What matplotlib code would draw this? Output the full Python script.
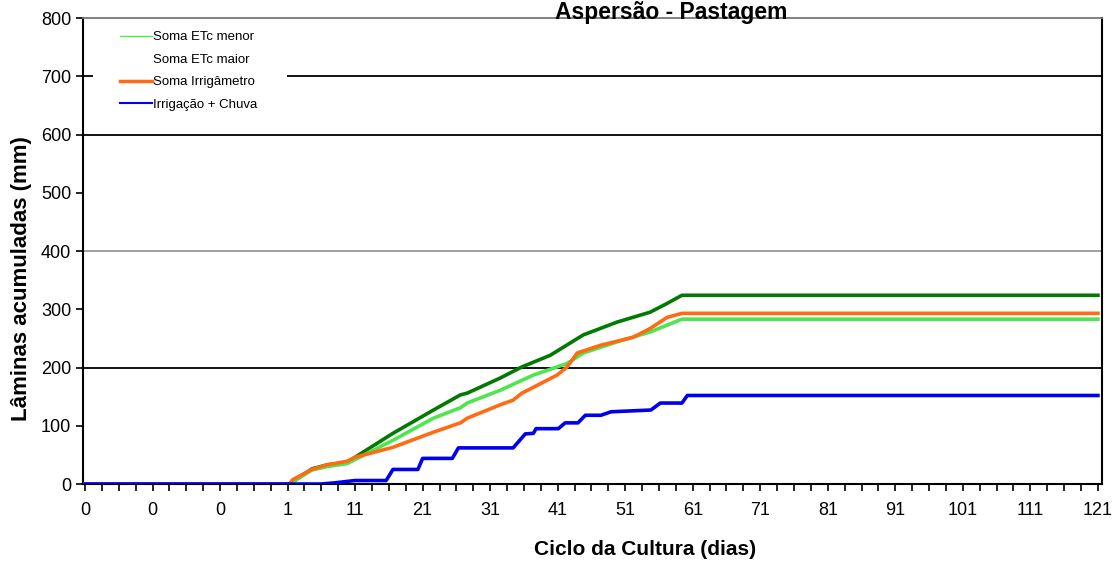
import matplotlib.pyplot as plt
from matplotlib.lines import Line2D
from matplotlib.patches import Rectangle
from matplotlib.ticker import MultipleLocator

plt.rcParams['font.family'] = ['Liberation Sans', 'DejaVu Sans']

# eixo de categorias: um rótulo a cada 10 pontos
tick_labels = ['0', '0', '0', '1', '11', '21', '31', '41', '51', '61',
               '71', '81', '91', '101', '111', '121']

# Soma ETc maior (verde escuro)
x_maior = [0, 30.3, 33.6, 35.9, 38.8, 40, 45.6, 51.6, 55.6, 56.6, 61.5, 64.7,
           68.9, 73.8, 78.8, 83.7, 86.2, 88.4, 150]
y_maior = [0, 0, 26, 33, 37, 46, 87, 127, 153, 156, 182, 201,
           221, 256, 278, 295, 310, 324, 324]

# Soma ETc menor (verde claro)
x_menor = [0, 30.3, 33.6, 35.9, 38.8, 40, 45.6, 51.6, 55.6, 56.6, 61.5, 66.4,
           71.4, 73.8, 78.8, 83.7, 88.4, 150]
y_menor = [0, 0, 24, 30, 35, 42, 75, 113, 131, 139, 161, 187,
           207, 225, 244, 261, 283, 283]

# Soma Irrigâmetro (laranja)
x_irrig = [0, 30.3, 30.7, 33.6, 35.9, 38.8, 40, 45.6, 51.6, 55.6, 56.6, 61.5,
           63.4, 64.7, 66.4, 69.9, 71.4, 72.9, 76.3, 81.2, 83.7, 86.2, 88.4, 150]
y_irrig = [0, 0, 7, 25, 33, 39, 46, 63, 89, 105, 113, 136,
           144, 156, 166, 187, 201, 225, 238, 252, 267, 286, 293, 293]

# Irrigação + Chuva (azul)
x_chuva = [0, 35, 37, 40, 44.6, 45.6, 49.3, 50, 54.4, 55.3, 63.4, 65.2, 66.4,
           66.8, 70.1, 71.1, 73.0, 74.1, 76.4, 77.9, 83.8, 85.2, 88.4, 89.2, 150]
y_chuva = [0, 0, 2, 6, 6, 25, 25, 44, 44, 62, 62, 86, 87,
           95, 95, 105, 105, 118, 118, 124, 127, 139, 139, 152, 152]

fig = plt.figure(figsize=(11.15, 5.63), dpi=100)
ax = fig.add_axes([0.0744, 0.1403, 0.9139, 0.8277])

# linhas de grade (só algumas aparecem no original)
for yv, c in [(700, 'black'), (600, 'black'), (400, '#999999'), (200, 'black')]:
    ax.axhline(yv, color=c, lw=1.3, zorder=1)

# fundo branco da legenda (mais largo que a própria legenda)
ax.add_patch(Rectangle((0.01, 0.80), 0.19, 0.175, transform=ax.transAxes,
                       facecolor='white', edgecolor='none', zorder=2))

ax.plot(x_maior, y_maior, color='#007a00', lw=2.6, zorder=3)
ax.plot(x_menor, y_menor, color='#4de64d', lw=2.6, zorder=3)
ax.plot(x_irrig, y_irrig, color='#ff6a13', lw=2.6, zorder=4)
ax.plot(x_chuva, y_chuva, color='#0000ee', lw=2.6, zorder=5)

ax.set_xlim(-0.3, 150.6)
ax.set_ylim(0, 800)
ax.set_yticks(range(0, 801, 100))
ax.set_xticks(range(0, 151, 10))
ax.set_xticklabels(tick_labels)
ax.xaxis.set_minor_locator(MultipleLocator(2.5))
ax.tick_params(axis='both', which='both', direction='out', length=5, width=1.2,
               labelsize=13, colors='black')
ax.tick_params(axis='x', pad=8)

for s in ['left', 'bottom', 'right']:
    ax.spines[s].set_linewidth(1.5)
    ax.spines[s].set_color('black')
ax.spines['top'].set_color('#777777')
ax.spines['top'].set_linewidth(1.3)

ax.set_ylabel('Lâminas acumuladas (mm)', fontsize=16, fontweight='bold', va='center')
ax.yaxis.set_label_coords(-0.060, 0.44)
ax.set_xlabel('Ciclo da Cultura (dias)', fontsize=15, fontweight='bold', va='center')
ax.xaxis.set_label_coords(0.552, -0.14)

fig.text(0.602, 0.999, 'Aspersão - Pastagem', fontsize=16.5, fontweight='bold',
         ha='center', va='top')

handles = [Line2D([], [], color='#4de64d', lw=1),
           Line2D([], [], color='white', lw=1),
           Line2D([], [], color='#ff6a13', lw=2.5),
           Line2D([], [], color='#0000ee', lw=1.5)]
labels = ['Soma ETc menor', 'Soma ETc maior', 'Soma Irrigâmetro', 'Irrigação + Chuva']
leg = ax.legend(handles, labels, loc='upper left', bbox_to_anchor=(0.03, 0.9865),
                fontsize=9.5, frameon=False,
                handlelength=2.4, handletextpad=0.1, labelspacing=0.78,
                borderpad=0.5, borderaxespad=0)
leg.set_zorder(10)

fig.savefig('out.png', dpi=100)
